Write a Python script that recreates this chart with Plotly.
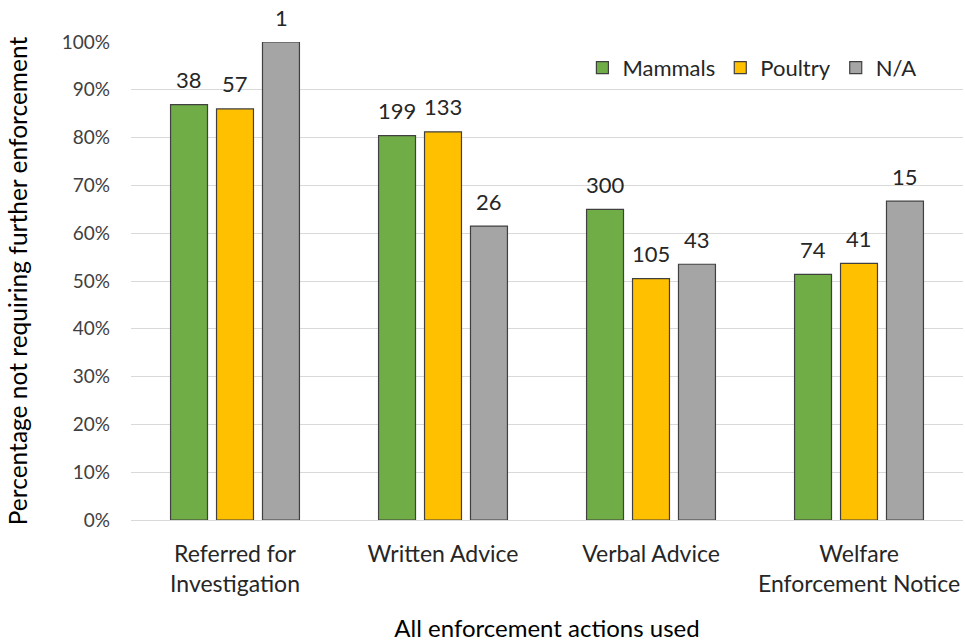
import plotly.graph_objects as go

categories = ["Referred for<br>Investigation", "Written Advice", "Verbal Advice", "Welfare<br>Enforcement Notice"]
mammals_pct = [0.869, 0.804, 0.650, 0.514]
poultry_pct = [0.860, 0.812, 0.505, 0.537]
na_pct = [1.000, 0.615, 0.535, 0.667]
mammals_n = [38, 199, 300, 74]
poultry_n = [57, 133, 105, 41]
na_n = [1, 26, 43, 15]

FONT = "Lato, Open Sans, sans-serif"
series = [
    ("Mammals", mammals_pct, mammals_n, "#70AD47"),
    ("Poultry", poultry_pct, poultry_n, "#FFC000"),
    ("N/A", na_pct, na_n, "#A5A5A5"),
]

fig = go.Figure()
annotations = []
for i, (name, vals, ns, col) in enumerate(series):
    fig.add_trace(go.Bar(
        name=name, x=categories, y=vals,
        marker=dict(color=col, line=dict(color="#404040", width=1.2)),
        cliponaxis=False,
    ))
    for c, v, n in zip(categories, vals, ns):
        annotations.append(dict(
            x=c, y=v, xref="x", yref="y", text=str(n), showarrow=False,
            xshift=(i - 1) * 46, yshift=25, yanchor="middle",
            font=dict(size=22, color="#262626", family=FONT),
        ))

fig.update_layout(
    width=965, height=643,
    barmode="group", bargap=0.337, bargroupgap=0.196,
    plot_bgcolor="white", paper_bgcolor="white",
    margin=dict(l=131, r=2, t=42, b=123, autoexpand=False),
    font=dict(family=FONT, color="#262626"),
    annotations=annotations,
    legend=dict(orientation="h", x=0.95, xanchor="right", y=0.99, yanchor="top",
                font=dict(size=22, color="#262626"), bgcolor="rgba(0,0,0,0)",
                traceorder="normal", itemwidth=30, tracegroupgap=0),
    yaxis=dict(range=[0, 1], tickformat=".0%", dtick=0.1,
               showgrid=True, gridcolor="#D9D9D9", gridwidth=1,
               tickfont=dict(size=19, color="#404040"),
               ticklabelstandoff=20,
               title=dict(text="Percentage not requiring further enforcement",
                          font=dict(size=24.5, color="#000000"), standoff=27),
               zeroline=False, showline=False, ticks="", automargin=False),
    xaxis=dict(tickfont=dict(size=23, color="#262626"),
               ticklabelstandoff=13,
               title=dict(text="All enforcement actions used",
                          font=dict(size=24, color="#000000"), standoff=24),
               showline=True, linecolor="#D9D9D9", ticks="", automargin=False),
)
fig.write_html("out.html", config={"displayModeBar": False},
               post_script="document.body.style.margin='0';document.body.style.overflow='hidden';")
